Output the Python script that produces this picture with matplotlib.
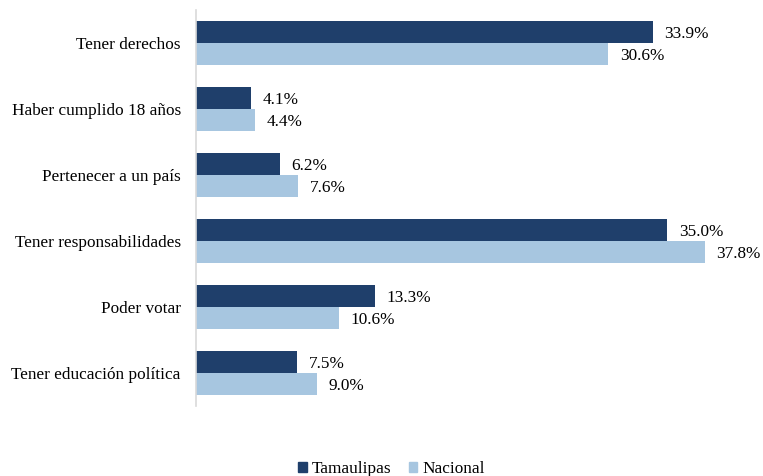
import numpy as np
import matplotlib.pyplot as plt
from matplotlib.patches import Patch

plt.rcParams['font.family'] = ['Liberation Serif', 'DejaVu Serif']

categories = ['Tener derechos', 'Haber cumplido 18 años', 'Pertenecer a un país',
              'Tener responsabilidades', 'Poder votar', 'Tener educación política']
tamaulipas = [33.9, 4.1, 6.2, 35.0, 13.3, 7.5]
nacional = [30.6, 4.4, 7.6, 37.8, 10.6, 9.0]

dark = '#1f3f6b'
light = '#a7c6e0'
fs = 12.4

fig = plt.figure(figsize=(7.63, 4.76), dpi=100)
ax = fig.add_axes([0.257, 0.148, 0.706, 0.831])

y = np.arange(len(categories))
h = 0.333
ax.barh(y - h / 2, tamaulipas, height=h, color=dark)
ax.barh(y + h / 2, nacional, height=h, color=light)

for yi, v in zip(y, tamaulipas):
    ax.text(v + 0.85, yi - h / 2 + 0.03, f'{v:.1f}%', va='center', ha='left', fontsize=fs)
for yi, v in zip(y, nacional):
    ax.text(v + 0.85, yi + h / 2 + 0.03, f'{v:.1f}%', va='center', ha='left', fontsize=fs)

ax.set_ylim(len(categories) - 0.5, -0.5)
ax.set_xlim(0, 40)
ax.set_yticks(y)
ax.set_yticklabels(categories, fontsize=fs)
ax.set_xticks([])
ax.tick_params(axis='y', length=0, pad=11)
for s in ['top', 'right', 'bottom']:
    ax.spines[s].set_visible(False)
ax.spines['left'].set_color('#d9d9d9')
ax.spines['left'].set_linewidth(1.2)

handles = [Patch(color=dark, label='Tamaulipas'), Patch(color=light, label='Nacional')]
fig.legend(handles=handles, loc='center', bbox_to_anchor=(0.513, 0.014), ncol=2,
           frameon=False, fontsize=fs, handlelength=0.5, handleheight=0.5,
           handletextpad=0.3, columnspacing=1.0)

fig.savefig('out.png', dpi=100)
